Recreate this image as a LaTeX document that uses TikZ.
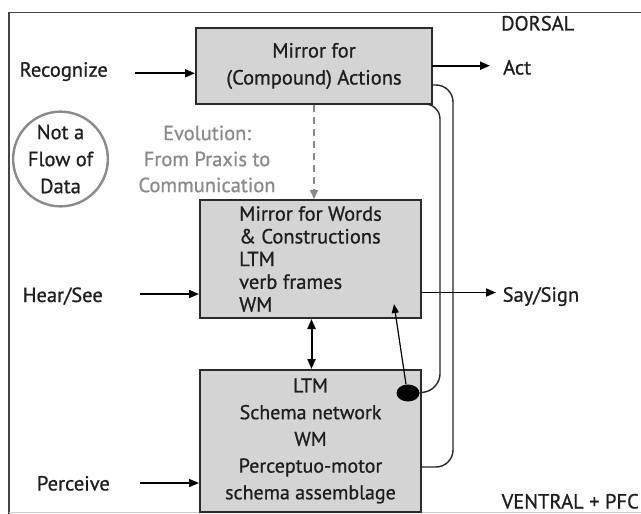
\documentclass[tikz,border=0pt]{standalone}
\usepackage{fontspec}
\setmainfont[FakeBold=0.8]{PT Sans}
\usetikzlibrary{arrows.meta,shapes.geometric}
\definecolor{boxfill}{HTML}{D4D4D4}
\definecolor{boxdraw}{HTML}{2A2A2A}
\definecolor{evgray}{HTML}{8A8A8A}
\definecolor{framegray}{HTML}{444444}
\definecolor{txt}{HTML}{1E1E1E}
\begin{document}
\begin{tikzpicture}[x=1pt,y=-1pt,
  every node/.style={font=\fontsize{20.5}{22.7}\selectfont, inner sep=0pt, text=txt},
  modbox/.style={draw=boxdraw, fill=boxfill, line width=2pt, rectangle},
  flow/.style={line width=1.8pt, draw=black, -{Triangle[length=10pt,width=8pt]}},
  loopline/.style={line width=1.4pt, draw=black!85, rounded corners=17pt},
  tip/.style={-{Triangle[length=9pt,width=7pt]}}
]
\useasboundingbox (0,0) rectangle (641,514);
% outer frame
\draw[framegray, line width=1.2pt] (9,514) -- (9,12.7) -- (645,12.7);
\draw[black!20, line width=1pt] (9,512.7) -- (645,512.7);

% boxes
\node[modbox, minimum width=236pt, minimum height=76pt, align=center,
      font=\fontsize{20.5}{27}\selectfont] (mirror) at (314,66)
  {Mirror for\\(Compound) Actions};
\node[modbox, minimum width=221pt, minimum height=118pt, align=left] (words) at (310.5,259)
  {Mirror for Words\\\& Constructions\\LTM\\verb frames\\WM};
\node[modbox, minimum width=221pt, minimum height=142pt, align=center,
      font=\fontsize{20}{26.7}\selectfont] (schema) at (310.5,441)
  {LTM\\Schema network\\WM\\Perceptuo-motor\\schema assemblage};

% circle
\node[circle, draw=evgray, line width=2.4pt, minimum size=90pt, align=center,
      font=\fontsize{20.5}{27}\selectfont] (notflow) at (60.5,159)
  {Not a\\Flow of\\Data};

% evolution text
\node[text=evgray, align=center, font=\fontsize{20.5}{26}\selectfont] (evo) at (207,159)
  {Evolution:\\From Praxis to\\Communication};

% labels
\node[anchor=base east] (recognize) at (108,76.7) {Recognize};
\node[anchor=base west] (act) at (503,74.5) {Act};
\node[anchor=base west] (dorsal) at (501,30.5) {DORSAL};
\node[anchor=base east] (hear) at (103,302) {Hear/See};
\node[anchor=base west] (say) at (502.5,301.7) {Say/Sign};
\node[anchor=base east] (perceive) at (110,490.5) {Perceive};
\node[anchor=base east] (ventral) at (639,508.5) {VENTRAL + PFC};

% flow arrows
\coordinate (recA) at (135,73.3);
\draw[flow] (recA) -- (mirror.west |- recA);
\coordinate (actA) at (432,65.7);
\draw[flow] (actA) -- (490,65.7) coordinate (actB);
\coordinate (hearA) at (140,294);
\draw[flow] (hearA) -- (words.west |- hearA);
\coordinate (sayA) at (421,292.5);
\draw[flow] (sayA) -- (496,292.5) coordinate (sayB);
\coordinate (percA) at (140,483);
\draw[flow, line width=1.4pt] (percA) -- (schema.west |- percA);

% evolution dashed arrow
\draw[evgray, line width=1.8pt, dash pattern=on 7pt off 5pt, -{Triangle[length=9pt,width=8pt]}]
  (mirror.south -| 314,0) -- (314,199);

% double arrow between words and schema
\draw[line width=2pt, {Triangle[length=10pt,width=8pt]}-{Triangle[length=10pt,width=8pt]}]
  (words.south -| 311.5,0) -- (schema.north -| 311.5,0);

% black ellipse
\node[ellipse, fill=black, minimum width=23pt, minimum height=17pt] (dot) at (408,393) {};

% loop lines
\draw[loopline] (432,85) -- (453,85) -- (453,467) -- (421,467);
\draw[loopline, rounded corners=15pt] (421,104) -- (440,104) -- (440,389) -- (dot.east);

% thin arrow from dot to words
\draw[line width=1.2pt, tip] (dot.north) ++(-2,0) -- (394,304);
\end{tikzpicture}
\end{document}
